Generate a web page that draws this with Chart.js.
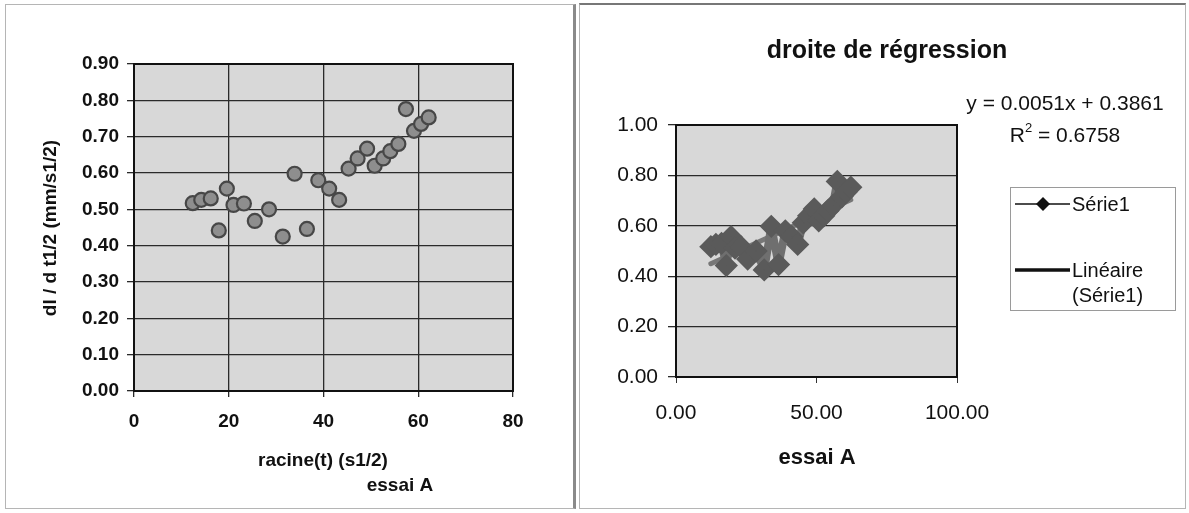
<!DOCTYPE html>
<html>
<head>
<meta charset="utf-8">
<script src="https://cdn.jsdelivr.net/npm/chart.js@4.4.1/dist/chart.umd.min.js"></script>
<style>
  html, body { margin: 0; padding: 0; background: #fff; }
  #page { position: relative; width: 1189px; height: 513px; overflow: hidden; }
  .frame { position: absolute; box-sizing: border-box; }
  #leftFrame { left: 5px; top: 4px; width: 571px; height: 505px; border: 1px solid #b5b5b5; border-right: 3px solid #8a8a8a; }
  #rightFrame { left: 579px; top: 3px; width: 607px; height: 506px; border: 1px solid #b5b5b5; border-top: 2px solid #777; }
  canvas { position: absolute; top: 0; }
  #leftChart { left: 0; }
  #rightChart { left: 580px; }
</style>
</head>
<body>
<div id="page">
  <div class="frame" id="leftFrame"></div>
  <div class="frame" id="rightFrame"></div>
  <canvas id="leftChart" width="575" height="513"></canvas>
  <canvas id="rightChart" width="609" height="513"></canvas>
</div>
<script>
// essai A : racine(t) vs dl / d t1/2
const racineT = [12.4, 14.2, 16.2, 17.9, 19.6, 21.0, 23.2, 25.5, 28.5, 31.4, 33.9, 36.5, 38.9,
                 41.2, 43.3, 45.3, 47.2, 49.2, 50.8, 52.6, 54.1, 55.8, 57.4, 59.1, 60.6, 62.2];
const dlDt = [0.517, 0.526, 0.530, 0.442, 0.557, 0.512, 0.516, 0.468, 0.500, 0.425, 0.598, 0.446, 0.580,
              0.557, 0.526, 0.612, 0.640, 0.667, 0.620, 0.640, 0.660, 0.680, 0.776, 0.716, 0.735, 0.753];

// regression shown on the right chart
const slope = 0.0051;
const intercept = 0.3861;
const r2 = 0.6758;

const leftYTicks = [0, 0.9, 0.1];   // min, max, step
const leftXTicks = [0, 80, 20];
const rightYTicks = [0, 1, 0.2];
const rightXTicks = [0, 100, 50];

const FONT = '"Liberation Sans", Arial, sans-serif';
const points = racineT.map((x, i) => ({ x: x, y: dlDt[i] }));
const xMin = Math.min(...racineT), xMax = Math.max(...racineT);
const trend = [xMin, xMax].map(x => ({ x: x, y: slope * x + intercept }));

// grey plot area + dark border
const plotBg = {
  id: 'plotBg',
  beforeDraw(chart) {
    const a = chart.chartArea, ctx = chart.ctx;
    ctx.save();
    ctx.fillStyle = '#d8d8d8';
    ctx.fillRect(a.left, a.top, a.right - a.left, a.bottom - a.top);
    ctx.restore();
  },
  afterDatasetsDraw(chart) {
    const a = chart.chartArea, ctx = chart.ctx;
    ctx.save();
    ctx.strokeStyle = '#111';
    ctx.lineWidth = 2;
    ctx.strokeRect(a.left, a.top, a.right - a.left, a.bottom - a.top);
    ctx.restore();
  }
};

// free texts (axis titles, title, equation, legend)
const texts = {
  id: 'texts',
  afterDraw(chart, args, opts) {
    const ctx = chart.ctx;
    ctx.save();
    ctx.fillStyle = '#111';
    (opts.items || []).forEach(t => {
      ctx.save();
      ctx.font = t.font;
      ctx.textAlign = t.align || 'center';
      ctx.textBaseline = 'middle';
      ctx.translate(t.x, t.y);
      if (t.rotate) ctx.rotate(t.rotate);
      ctx.fillText(t.text, 0, 0);
      ctx.restore();
    });
    if (opts.draw) opts.draw(ctx);
    ctx.restore();
  }
};

function fixedTicks(t, decimals) {
  return { min: t[0], max: t[1], step: t[2], decimals: decimals };
}

const lt = fixedTicks(leftYTicks, 2), lx = fixedTicks(leftXTicks, 0);
new Chart(document.getElementById('leftChart'), {
  type: 'scatter',
  data: {
    datasets: [{
      data: points,
      pointRadius: 7,
      pointHoverRadius: 7,
      backgroundColor: '#8e8e8e',
      borderColor: '#474747',
      borderWidth: 2.2
    }]
  },
  options: {
    responsive: false,
    animation: false,
    events: [],
    layout: { padding: { left: 0, top: 64, right: 62, bottom: 0 } },
    plugins: {
      legend: { display: false },
      tooltip: { enabled: false },
      texts: {
        items: [
          { text: 'dl / d t1/2 (mm/s1/2)', x: 51, y: 228, rotate: -Math.PI / 2, font: 'bold 19px ' + FONT },
          { text: 'racine(t) (s1/2)', x: 323, y: 461, font: 'bold 19px ' + FONT },
          { text: 'essai A', x: 400, y: 486, font: 'bold 19px ' + FONT }
        ]
      }
    },
    scales: {
      x: {
        type: 'linear',
        min: lx.min, max: lx.max,
        afterFit(s) { s.height = 122; },
        ticks: { stepSize: lx.step, color: '#111', padding: 13, font: { family: FONT, size: 19, weight: 'bold' } },
        grid: { color: '#2a2a2a', lineWidth: 1.3, tickLength: 6 },
        border: { color: '#111', width: 2 }
      },
      y: {
        min: lt.min, max: lt.max,
        afterFit(s) { s.width = 134; },
        ticks: {
          stepSize: lt.step, color: '#111', padding: 8,
          font: { family: FONT, size: 19, weight: 'bold' },
          callback: v => Number(v).toFixed(2)
        },
        grid: { color: '#2a2a2a', lineWidth: 1.3, tickLength: 7 },
        border: { color: '#111', width: 2 }
      }
    }
  },
  plugins: [plotBg, texts]
});

const rt = fixedTicks(rightYTicks, 2), rx = fixedTicks(rightXTicks, 2);
new Chart(document.getElementById('rightChart'), {
  type: 'scatter',
  data: {
    datasets: [{
      label: 'Série1',
      data: points,
      showLine: true,
      borderColor: '#6f6f6f',
      borderWidth: 8,
      borderJoinStyle: 'round',
      borderCapStyle: 'round',
      pointStyle: 'rectRot',
      pointRadius: 6,
      pointHoverRadius: 6,
      backgroundColor: '#5a5a5a',
      pointBorderColor: '#5a5a5a',
      order: 1
    }, {
      label: 'Linéaire (Série1)',
      data: trend,
      showLine: true,
      borderColor: '#777',
      borderWidth: 5,
      borderCapStyle: 'round',
      pointRadius: 0,
      order: 2
    }]
  },
  options: {
    responsive: false,
    animation: false,
    events: [],
    layout: { padding: { left: 0, top: 125, right: 232, bottom: 0 } },
    plugins: {
      legend: { display: false },
      tooltip: { enabled: false },
      texts: {
        items: [
          { text: 'droite de régression', x: 307, y: 51, font: 'bold 25px ' + FONT },
          { text: 'essai A', x: 237, y: 458, font: 'bold 22px ' + FONT },
          { text: 'y = ' + slope.toFixed(4) + 'x + ' + intercept.toFixed(4), x: 485, y: 104, font: '21px ' + FONT }
        ],
        draw(ctx) {
          // R² line
          ctx.textBaseline = 'middle';
          ctx.textAlign = 'left';
          const rest = ' = ' + r2.toFixed(4);
          ctx.font = '13px ' + FONT;
          const w2 = ctx.measureText('2').width;
          ctx.font = '21px ' + FONT;
          const wR = ctx.measureText('R').width;
          const total = wR + w2 + ctx.measureText(rest).width;
          let x = 485 - total / 2;
          ctx.fillText('R', x, 136);
          x += wR;
          ctx.font = '13px ' + FONT;
          ctx.fillText('2', x, 128);
          x += w2;
          ctx.font = '21px ' + FONT;
          ctx.fillText(rest, x, 136);

          // legend box
          ctx.strokeStyle = '#9a9a9a';
          ctx.lineWidth = 1;
          ctx.strokeRect(430.5, 187.5, 165, 123);
          ctx.strokeStyle = '#111';
          ctx.lineWidth = 1.5;
          ctx.beginPath(); ctx.moveTo(435, 204); ctx.lineTo(490, 204); ctx.stroke();
          ctx.fillStyle = '#111';
          ctx.beginPath();
          ctx.moveTo(463, 197); ctx.lineTo(470, 204); ctx.lineTo(463, 211); ctx.lineTo(456, 204);
          ctx.closePath(); ctx.fill();
          ctx.lineWidth = 3.5;
          ctx.beginPath(); ctx.moveTo(435, 270); ctx.lineTo(490, 270); ctx.stroke();
          ctx.font = '20px ' + FONT;
          ctx.fillText('Série1', 492, 205);
          ctx.fillText('Linéaire', 492, 271);
          ctx.fillText('(Série1)', 492, 296);
        }
      }
    },
    scales: {
      x: {
        type: 'linear',
        min: rx.min, max: rx.max,
        afterFit(s) { s.height = 136; },
        ticks: {
          stepSize: rx.step, color: '#111', padding: 18,
          font: { family: FONT, size: 21 },
          callback: v => Number(v).toFixed(2)
        },
        grid: { drawOnChartArea: false, color: '#333', tickLength: 6 },
        border: { color: '#111', width: 2 }
      },
      y: {
        min: rt.min, max: rt.max,
        afterFit(s) { s.width = 96; },
        ticks: {
          stepSize: rt.step, color: '#111', padding: 10,
          font: { family: FONT, size: 21 },
          callback: v => Number(v).toFixed(2)
        },
        grid: { color: '#2a2a2a', lineWidth: 1.3, tickLength: 8 },
        border: { color: '#111', width: 2 }
      }
    }
  },
  plugins: [plotBg, texts]
});
</script>
</body>
</html>
